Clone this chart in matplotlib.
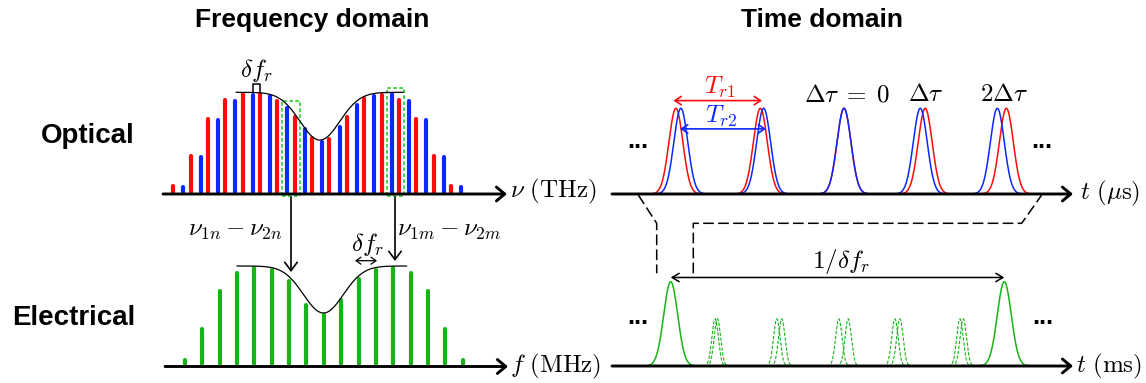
import numpy as np
import matplotlib
matplotlib.use("Agg")
import matplotlib.pyplot as plt
from matplotlib.patches import Rectangle

plt.rcParams["mathtext.fontset"] = "cm"
plt.rcParams["font.family"] = ["Liberation Sans", "DejaVu Sans"]

W, H, DPI = 1146, 383, 100

# ---------------- data ----------------
# Optical combs: normalised line amplitudes (comb 1 red, comb 2 blue)
comb1_amp = [0.10, 0.39, 0.76, 0.94, 1.00, 1.00, 0.93, 0.78, 0.57,
             0.56, 0.78, 0.96, 0.99, 0.94, 0.76, 0.39, 0.10]
comb2_amp = [0.09, 0.38, 0.75, 0.93, 0.99, 0.98, 0.87, 0.66, 0.53,
             0.68, 0.89, 0.98, 1.00, 0.93, 0.75, 0.38, 0.09]
comb2_offset = 0.58            # comb-2 lines lie this fraction of a spacing above comb 1

# Spectral envelope: flat top with an absorption dip (line-index units)
env_level = 1.0
env_dip_depth = 0.47
env_dip_width = 1.15
env_dip_centre_opt = 8.45
env_span_opt = (3.63, 13.24)

# Line pairs that beat together: (comb-2 index, comb-1 index)
beat_pairs = [(6, 7), (12, 13)]

# RF comb after heterodyne detection
rf_amp = [0.08, 0.39, 0.77, 0.95, 1.00, 0.98, 0.87, 0.63, 0.53,
          0.68, 0.89, 0.98, 1.00, 0.95, 0.77, 0.39, 0.08]
env_dip_centre_rf = 7.98
env_span_rf = (3.0, 12.77)

# Optical pulse trains, time in units of the repetition period
pulses1_t = [-2.05, -1.02, 0.0, 0.99, 1.98]
pulses2_t = [-1.99, -0.98, 0.0, 0.93, 1.87]
pulse_width = 0.085
pulse_cut = 0.354

# Interferogram, time in units of 1/delta f_r
burst_t = [0.0, 1.0]
side_a_t = [0.133, 0.318, 0.504, 0.672, 0.867]
side_b_t = [0.140, 0.333, 0.532, 0.687, 0.877]
side_amp = 0.56
burst_width = 0.021
burst_cut = 0.084
side_width = 0.0096
side_cut = 0.036

RED = "#ff0a0a"
BLUE = "#0a28ff"
GREEN = "#17b417"
BOXGREEN = "#2ecc2e"
MATH = 18

fig = plt.figure(figsize=(W / DPI, H / DPI), dpi=DPI)
fig.patch.set_facecolor("white")


def panel(x0, x1, ytop, ybot, xo, sx, base, sy):
    """Axes placed in pixel units; data x=0 sits at xo, y=0 at base."""
    ax = fig.add_axes([x0 / W, 1 - ybot / H, (x1 - x0) / W, (ybot - ytop) / H])
    ax.set_xlim((x0 - xo) / sx, (x1 - xo) / sx)
    ax.set_ylim((base - ybot) / sy, (base - ytop) / sy)
    ax.axis("off")
    return ax


def dip_envelope(ax, centre, span):
    x = np.linspace(span[0], span[1], 400)
    y = env_level - env_dip_depth * np.exp(-0.5 * ((x - centre) / env_dip_width) ** 2)
    ax.plot(x, y, color="k", lw=0.9, clip_on=False)


def gauss(ax, c, amp, w, cut, **kw):
    t = np.linspace(c - cut, c + cut, 300)
    ax.plot(t, amp * np.exp(-0.5 * ((t - c) / w) ** 2), clip_on=False, **kw)


# ---------------- optical spectrum ----------------
SY_OPT = 101.7
ax_fo = panel(160, 600, 40, 200, 173.3, 17.35, 194, SY_OPT)
cap = 2.0 / SY_OPT
n1 = np.arange(len(comb1_amp))
n2 = np.arange(len(comb2_amp)) + comb2_offset
ax_fo.vlines(n1, cap, np.array(comb1_amp) - cap, colors=RED, lw=3.0, capstyle="round")
ax_fo.vlines(n2, cap, np.array(comb2_amp) - cap, colors=BLUE, lw=3.0, capstyle="round")
dip_envelope(ax_fo, env_dip_centre_opt, env_span_opt)
for ib, ir in beat_pairs:
    x0 = n2[ib] - 0.29
    x1 = n1[ir] + 0.29
    top = max(comb2_amp[ib], comb1_amp[ir]) + 0.04
    ax_fo.add_patch(Rectangle((x0, -0.02), x1 - x0, top + 0.02, fill=False,
                              ec=BOXGREEN, lw=1.2, ls=(0, (2.2, 1.4)), clip_on=False))
# spacing bracket
bx0, bx1 = n2[4], n1[5]
ax_fo.plot([bx0, bx0, bx1, bx1], [1.0, 1.085, 1.085, 1.0], color="k", lw=1.1, clip_on=False)

# ---------------- RF spectrum ----------------
SY_RF = 100.0
ax_fe = panel(160, 600, 240, 372, 185, 17.35, 366, SY_RF)
m = np.arange(len(rf_amp))
cap_rf = 2.0 / SY_RF
ax_fe.vlines(m, cap_rf, np.array(rf_amp) - cap_rf, colors=GREEN, lw=3.0, capstyle="round")
dip_envelope(ax_fe, env_dip_centre_rf, env_span_rf)

# ---------------- optical pulse trains ----------------
ax_to = panel(610, 1146, 60, 200, 844, 82, 194, 85.7)
for c in pulses1_t:
    gauss(ax_to, c, 1.0, pulse_width, pulse_cut, color=RED, lw=1.1)
for c in pulses2_t:
    gauss(ax_to, c, 1.0, pulse_width, pulse_cut, color=BLUE, lw=1.1)
ax_to.annotate("", xy=(pulses1_t[1] + 0.02, 1.09), xytext=(pulses1_t[0] - 0.03, 1.09),
               arrowprops=dict(arrowstyle="<->,head_length=0.45,head_width=0.3",
                               color=RED, lw=1.2, shrinkA=0, shrinkB=0))
ax_to.annotate("", xy=(pulses2_t[1] + 0.03, 0.76), xytext=(pulses2_t[0] - 0.01, 0.76),
               arrowprops=dict(arrowstyle="<->,head_length=0.45,head_width=0.3",
                               color=BLUE, lw=1.2, shrinkA=0, shrinkB=0))

# ---------------- interferogram ----------------
ax_te = panel(610, 1146, 240, 372, 670.7, 333.6, 366, 84.3)
for c in burst_t:
    gauss(ax_te, c, 1.0, burst_width, burst_cut, color=GREEN, lw=1.1)
for c in side_a_t + side_b_t:
    gauss(ax_te, c, side_amp, side_width, side_cut, color=GREEN, lw=0.8,
          ls=(0, (3, 1.5)))
ax_te.annotate("", xy=(burst_t[1], 1.05), xytext=(burst_t[0], 1.05),
               arrowprops=dict(arrowstyle="<->,head_length=0.5,head_width=0.3",
                               color="k", lw=1.1, shrinkA=0, shrinkB=0))

# ---------------- annotations (pixel overlay) ----------------
ov = fig.add_axes([0, 0, 1, 1])
ov.set_xlim(0, W)
ov.set_ylim(H, 0)
ov.axis("off")


def axis_arrow(x0, x1, y):
    ov.annotate("", xy=(x1, y), xytext=(x0, y),
                arrowprops=dict(arrowstyle="->,head_length=0.6,head_width=0.5",
                                color="k", lw=2.1, shrinkA=0, shrinkB=0))


axis_arrow(163, 507, 194)
axis_arrow(165, 508, 366.5)
axis_arrow(612, 1073, 194)
axis_arrow(612, 1073, 366)

for x, y1 in [(291, 272), (395, 261)]:
    ov.annotate("", xy=(x, y1), xytext=(x, 197),
                arrowprops=dict(arrowstyle="->,head_length=0.6,head_width=0.45",
                                color="k", lw=1.2, shrinkA=0, shrinkB=0))
ov.annotate("", xy=(377, 260.7), xytext=(355, 260.7),
            arrowprops=dict(arrowstyle="<->,head_length=0.35,head_width=0.25",
                            color="k", lw=0.9, shrinkA=0, shrinkB=0))

dash = (0, (7, 2.8))
ov.plot([638.3, 656.7, 656.7], [195, 223.3, 273.3], color="k", lw=1.1, ls=dash)
ov.plot([693.3, 693.3, 1021.7, 1041.7], [273.3, 223.3, 223.3, 195], color="k", lw=1.1, ls=dash)

# titles and row labels
bold = dict(fontsize=19, fontweight="bold", color="k")
ov.text(312, 27.3, "Frequency domain", ha="center", va="baseline", **bold)
ov.text(822, 27.3, "Time domain", ha="center", va="baseline", **bold)
ov.text(135, 143.3, "Optical", ha="right", va="baseline", fontsize=20, fontweight="bold")
ov.text(135, 325, "Electrical", ha="right", va="baseline", fontsize=20, fontweight="bold")

# math labels
ov.text(256, 70, r"$\delta f_r$", ha="center", va="center", fontsize=MATH)
ov.text(510, 191, r"$\nu\ (\mathrm{THz})$", ha="left", va="center", fontsize=MATH)
ov.text(283, 230, r"$\nu_{1n}-\nu_{2n}$", ha="right", va="center", fontsize=MATH)
ov.text(397, 230, r"$\nu_{1m}-\nu_{2m}$", ha="left", va="center", fontsize=MATH)
ov.text(367.7, 244, r"$\delta f_r$", ha="center", va="center", fontsize=MATH)
ov.text(510, 366, r"$f\ (\mathrm{MHz})$", ha="left", va="center", fontsize=MATH)

ov.text(720, 87, r"$T_{r1}$", ha="center", va="center", fontsize=MATH, color=RED)
ov.text(721.5, 116.7, r"$T_{r2}$", ha="center", va="center", fontsize=MATH, color=BLUE)
ov.text(846.5, 94, r"$\Delta\tau\;=\;0$", ha="center", va="center", fontsize=MATH)
ov.text(926, 94, r"$\Delta\tau$", ha="center", va="center", fontsize=MATH)
ov.text(1004, 94, r"$2\Delta\tau$", ha="center", va="center", fontsize=MATH)
ov.text(1080, 193, r"$t\ (\mu\mathrm{s})$", ha="left", va="center", fontsize=MATH)
ov.text(840.5, 261.7, r"$1/\delta f_r$", ha="center", va="center", fontsize=MATH)
ov.text(1076, 366, r"$t\ (\mathrm{ms})$", ha="left", va="center", fontsize=MATH)

for x, y in [(638, 148), (1042, 148), (638, 324), (1043, 324)]:
    ov.text(x, y, "...", ha="center", va="baseline", fontsize=18, fontweight="bold")

fig.savefig("out.png", dpi=DPI, facecolor="white")
